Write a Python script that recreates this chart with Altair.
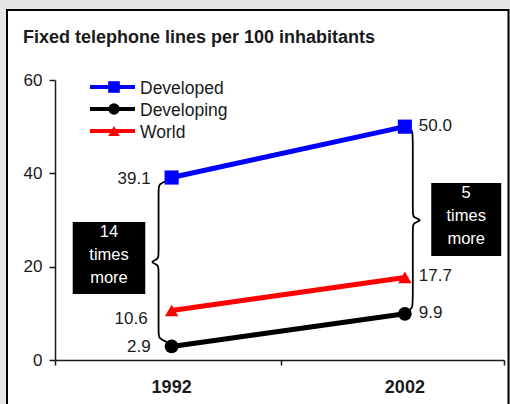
import altair as alt
import pandas as pd

# ---- data -------------------------------------------------------------
years = [1992, 2002]
series = ["Developed", "Developing", "World"]
developed = [39.1, 50.0]
developing = [2.9, 9.9]
world = [10.6, 17.7]
colors = ["#0000ff", "#000000", "#ff0000"]
shapes = ["square", "circle", "triangle-up"]
box_lines = [["14", "times", "more"], ["5", "times", "more"]]
y_ticks = [0, 20, 40, 60]

FONT = "Liberation Sans"
INK = "#1a1a1a"
W, H = 449, 280

x_scale = alt.Scale(domain=[1987.0, 2006.25], nice=False, zero=False)
y_scale = alt.Scale(domain=[0, 60], nice=False)

rows = []
for name, vals in zip(series, [developed, developing, world]):
    for yr, v in zip(years, vals):
        rows.append({"year": yr, "series": name, "value": v})
df = pd.DataFrame(rows)

color = alt.Color("series:N", scale=alt.Scale(domain=series, range=colors), legend=None)
shape = alt.Shape("series:N", scale=alt.Scale(domain=series, range=shapes), legend=None)
size = alt.Size("series:N", scale=alt.Scale(domain=series, range=[200, 180, 220]), legend=None)

X = alt.X("year:Q", scale=x_scale,
          axis=alt.Axis(values=[1987.0, 1996.7, 2006.25], labels=False, title=None,
                        grid=False, tickSize=5, tickWidth=1.5, domainWidth=1.5,
                        domainColor=INK, tickColor=INK, zindex=1))
Y = alt.Y("value:Q", scale=y_scale,
          axis=alt.Axis(values=y_ticks, title=None, grid=False, tickSize=6,
                        tickWidth=1.5, domainWidth=1.5, domainColor=INK, tickColor=INK,
                        labelFont=FONT, labelFontSize=17, labelColor=INK,
                        labelPadding=7, zindex=1))

one = pd.DataFrame({"k": [0]})

# white panel with black frame
frame = alt.Chart(one).mark_rect(fill="white", stroke="black", strokeWidth=2).encode(
    x=alt.value(-48), x2=alt.value(453.5), y=alt.value(-70), y2=alt.value(340)
)

# curly braces between developed and developing
def brace(yr, hi, lo, xv, xe, xt, top_pad, bot_pad):
    top, bot, mid = hi - top_pad, lo + bot_pad, (hi + lo) / 2
    pts = [(xe, top), (xv, top - 0.8), (xv, top - 2.0), (xv, mid + 1.5), (xv, mid + 0.6),
           (xt, mid), (xv, mid - 0.6), (xv, mid - 1.5), (xv, bot + 2.0), (xv, bot + 0.8),
           (xe, bot)]
    return [{"b": yr, "i": i, "bx": p[0], "by": p[1]} for i, p in enumerate(pts)]

brace_rows = (brace(years[0], developed[0], developing[0], 1991.44, 1991.82, 1991.04, 0.6, 0.9)
              + brace(years[1], developed[1], developing[1], 2002.34, 2002.12, 2002.79, 0.1, 0.5))
braces = alt.Chart(pd.DataFrame(brace_rows)).mark_line(
    color="black", strokeWidth=1.8, interpolate="basis"
).encode(
    x=alt.X("bx:Q", scale=x_scale), y=alt.Y("by:Q", scale=y_scale),
    detail="b:N", order="i:Q"
)

lines = alt.Chart(df).mark_line(strokeWidth=5).encode(x=X, y=Y, color=color, detail="series:N")
points = alt.Chart(df).mark_point(filled=True, opacity=1).encode(
    x="year:Q", y="value:Q", color=color, shape=shape, size=size
)

lbl = dict(font=FONT, fontSize=17, color=INK, baseline="middle")
fmt = alt.Text("value:Q", format=".1f")
lab_left = alt.Chart(df).transform_filter(
    (alt.datum.year == years[0]) & (alt.datum.series != "World")
).mark_text(align="right", dx=-21, dy=1, **lbl).encode(x="year:Q", y="value:Q", text=fmt)
lab_left_world = alt.Chart(df).transform_filter(
    (alt.datum.year == years[0]) & (alt.datum.series == "World")
).mark_text(align="right", dx=-24, dy=8, **lbl).encode(x="year:Q", y="value:Q", text=fmt)
lab_right = alt.Chart(df).transform_filter(alt.datum.year == years[1]).mark_text(
    align="left", dx=14, dy=-1, **lbl
).encode(x="year:Q", y="value:Q", text=fmt)

# black ratio boxes
box_df = pd.DataFrame({"x0": [1987.76, 2003.13], "x1": [1990.87, 2006.13],
                       "y0": [14.14, 22.29], "y1": [29.57, 37.93]})
boxes = alt.Chart(box_df).mark_rect(color="black").encode(
    x=alt.X("x0:Q", scale=x_scale), x2="x1:Q", y=alt.Y("y0:Q", scale=y_scale), y2="y1:Q"
)
box_text_rows = []
for (x0, x1, y1), lines_ in zip([(1987.76, 1990.87, 29.57), (2003.13, 2006.13, 37.93)], box_lines):
    for j, t in enumerate(lines_):
        box_text_rows.append({"tx": (x0 + x1) / 2, "ty": y1 - 2.2 - 4.9 * j, "t": t})
box_text = alt.Chart(pd.DataFrame(box_text_rows)).mark_text(
    font=FONT, fontSize=16.5, color="white", align="center", baseline="middle"
).encode(x=alt.X("tx:Q", scale=x_scale), y=alt.Y("ty:Q", scale=y_scale), text="t:N")

# legend
legend_layers = []
for k, (name, col, shp) in enumerate(zip(series, colors, shapes)):
    ry = 7 + 22 * k
    legend_layers.append(alt.Chart(one).mark_rule(color=col, strokeWidth=4).encode(
        x=alt.value(35), x2=alt.value(80), y=alt.value(ry)))
    legend_layers.append(alt.Chart(one).mark_point(
        shape=shp, filled=True, opacity=1, color=col, size=135
    ).encode(x=alt.value(59), y=alt.value(ry)))
    legend_layers.append(alt.Chart(pd.DataFrame({"t": [name]})).mark_text(
        font=FONT, fontSize=17.5, color=INK, align="left", baseline="middle"
    ).encode(x=alt.value(85), y=alt.value(ry + 2), text="t:N"))

title = alt.Chart(pd.DataFrame({"t": ["Fixed telephone lines per 100 inhabitants"]})).mark_text(
    font=FONT, fontSize=18, fontWeight="bold", color=INK, align="left", baseline="alphabetic"
).encode(x=alt.value(-32), y=alt.value(-37), text="t:N")

year_labels = alt.Chart(pd.DataFrame({"year": years})).mark_text(
    font=FONT, fontSize=18, fontWeight="bold", color=INK, align="center", baseline="middle"
).encode(x=alt.X("year:Q", scale=x_scale), y=alt.value(307.5), text=alt.Text("year:Q", format="d"))

chart = alt.layer(
    frame, boxes, braces, lines, points, lab_left, lab_left_world, lab_right,
    box_text, *legend_layers, title, year_labels
).properties(
    width=W, height=H,
    autosize=alt.AutoSizeParams(type="none"),
    padding={"left": 55, "top": 80, "right": 6, "bottom": 44},
    background="#e6e6e6",
).configure_view(stroke=None)

chart.save("out.html", embed_options={"renderer": "svg", "actions": False})
